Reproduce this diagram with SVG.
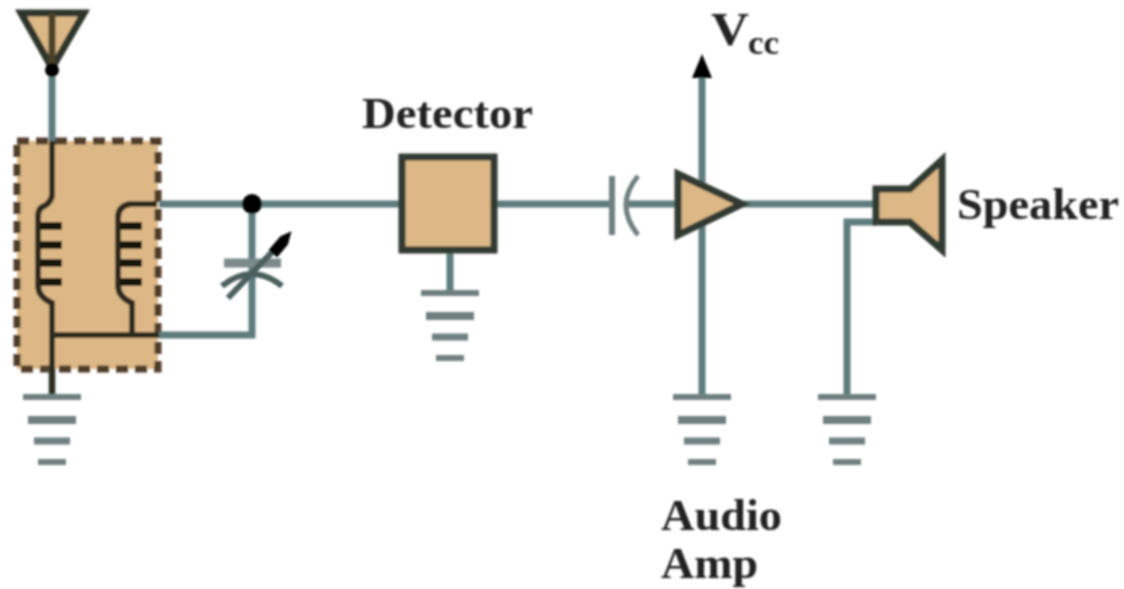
<svg xmlns="http://www.w3.org/2000/svg" width="1124" height="589" viewBox="0 0 1124 589">
<defs>
<filter id="soft" x="-5%" y="-5%" width="110%" height="110%"><feGaussianBlur stdDeviation="1.3"/></filter>
<filter id="softT" x="-5%" y="-5%" width="110%" height="110%"><feGaussianBlur stdDeviation="1"/></filter>
<g id="gnd" class="g"><path d="M-29,0H29" stroke-width="6"/><path d="M-24,23H24" stroke-width="8"/><path d="M-18,44H18" stroke-width="7"/><path d="M-14,65H14" stroke-width="6"/></g>
<g id="coil"><path d="M0,0H22M0,19H22M0,37H22M0,56H22" stroke="#14140f" stroke-width="8" fill="none"/></g>
</defs>
<style>
.w{fill:none;stroke:#5f7c7c;stroke-width:7}
.k{fill:none;stroke:#2f2a1b;stroke-width:6}
.f{fill:#ddb887;stroke:#333b30;stroke-width:7;stroke-linejoin:miter}
.g{fill:none;stroke:#6f8080}
text{font-family:"Liberation Serif","Times New Roman",serif;font-weight:bold;fill:#222}
</style>
<rect width="1124" height="589" fill="#fff"/>
<g filter="url(#soft)">
<g id="tank-box"><rect x="17" y="141" width="141" height="228" fill="#ddb887" stroke="#4f3e29" stroke-width="7" stroke-dasharray="12 7"/></g>
<g id="connectors">
<path class="w" d="M52,70V141"/>
<path class="w" d="M159,204H402"/>
<path class="w" d="M252,204V335H159"/>
<path class="w" d="M52,368V397"/>
<path class="w" d="M450,250V293"/>
<path class="w" d="M494,204H612"/>
<path class="w" d="M625,204H678"/>
<path class="w" d="M702,190V75"/>
<path class="w" d="M702,220V397"/>
<path class="w" d="M743,204H875"/>
<path class="w" d="M847,397V222H876"/>
<path d="M702,54L692,78H712Z" fill="#050505"/>
</g>
<g id="antenna"><path d="M21,13H84L52,68Z" fill="#ddb887" stroke="#2f352a" stroke-width="7"/><path d="M52,13V70" stroke="#4a4228" stroke-width="7"/><circle cx="52" cy="70" r="7" fill="#050505"/></g>
<g id="primary-coil"><path class="k" d="M52,141V196Q50,204 42,207Q38,210 38,216V285Q38,297 52,303V395"/><use href="#coil" x="40" y="226"/></g>
<g id="secondary-coil"><path class="k" d="M157,204H130Q118,206 118,218V285Q118,297 132,303V335"/><use href="#coil" x="120" y="226"/></g>
<path id="tank-bus" class="k" d="M52,335H159"/>
<g id="junction"><circle cx="252" cy="204" r="10" fill="#050505"/></g>
<g id="tuning-capacitor"><path d="M224,263H281" stroke="#7b8a8a" stroke-width="9" fill="none"/><path d="M222,286Q252,262 282,286" stroke="#4c5f5d" stroke-width="6" fill="none"/><path d="M228,298L276,248" stroke="#4c5f5d" stroke-width="6" fill="none"/><path d="M270,250L281,237L290,233L287,244L277,256Z" fill="#050505" stroke="#050505" stroke-width="2"/></g>
<g id="detector"><rect x="402" y="157" width="92" height="93" class="f"/></g>
<g id="coupling-capacitor"><path d="M612,176V235" stroke="#6f8080" stroke-width="6" fill="none"/><path d="M638,176Q614,205 638,235" stroke="#6f8080" stroke-width="5" fill="none"/></g>
<g id="audio-amp"><path d="M678,174V235L742,204Z" class="f"/></g>
<g id="speaker"><path d="M876,189H910L942,160V250L910,222H876Z" class="f"/></g>
<use id="ground-1" href="#gnd" x="52" y="397"/>
<use id="ground-2" href="#gnd" x="450" y="293"/>
<use id="ground-3" href="#gnd" x="702" y="397"/>
<use id="ground-4" href="#gnd" x="847" y="397"/>
</g>
<g filter="url(#softT)">
<text x="362" y="128" font-size="44" textLength="171" lengthAdjust="spacingAndGlyphs">Detector</text>
<text x="711" y="45" font-size="46" textLength="38" lengthAdjust="spacingAndGlyphs">V</text>
<text x="748" y="54" font-size="34" textLength="31" lengthAdjust="spacingAndGlyphs" fill="#444">cc</text>
<text x="957" y="219" font-size="44" textLength="162" lengthAdjust="spacingAndGlyphs">Speaker</text>
<text x="661" y="530" font-size="44" textLength="121" lengthAdjust="spacingAndGlyphs">Audio</text>
<text x="661" y="578" font-size="44" textLength="97" lengthAdjust="spacingAndGlyphs">Amp</text>
</g>
</svg>
